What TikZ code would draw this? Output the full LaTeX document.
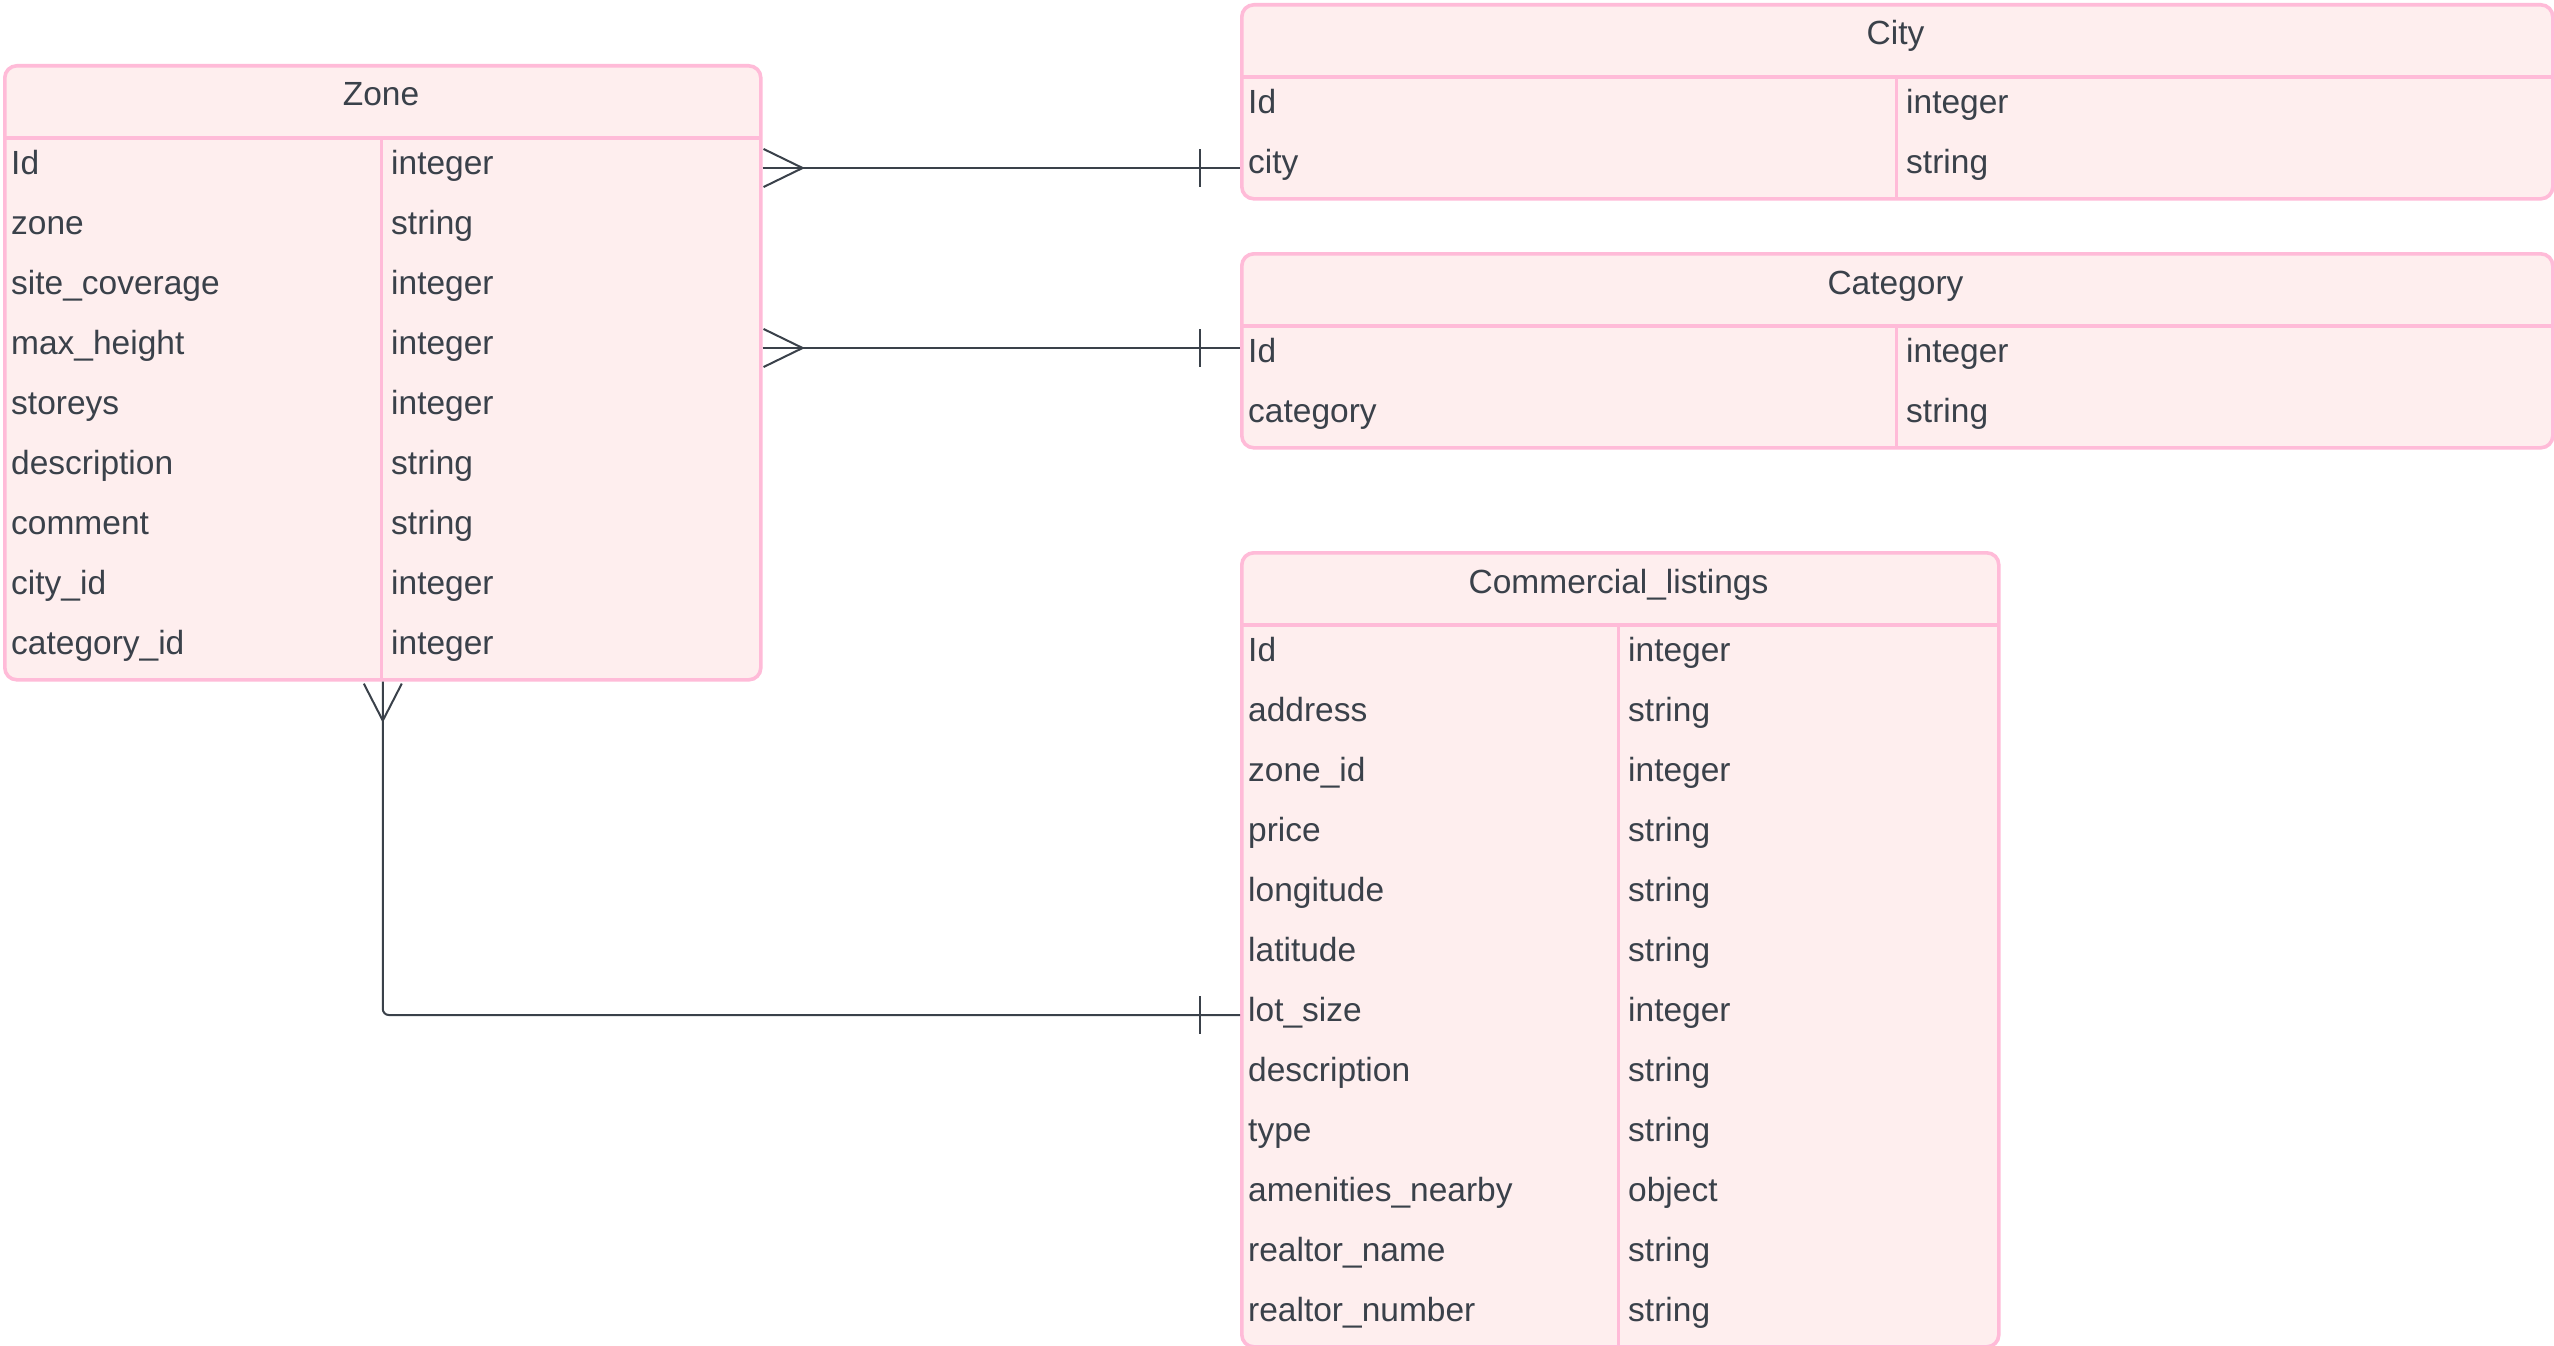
\documentclass[tikz,border=0pt]{standalone}
\usepackage{fontspec}
\setmainfont{Liberation Sans}
\definecolor{pinkline}{HTML}{FFBBD8}
\definecolor{pinkfill}{HTML}{FEEEEE}
\definecolor{ink}{HTML}{3A414A}
\tikzset{
  tbl/.style={draw=pinkline, fill=pinkfill, line width=3.6pt, rounded corners=12pt, inner sep=0pt, anchor=north west},
  sepline/.style={draw=pinkline, line width=3.6pt},
  colsep/.style={draw=pinkline, line width=3pt},
  txt/.style={text=ink, font=\fontsize{33.5}{40}\selectfont, inner sep=0pt, anchor=base west},
  ttl/.style={text=ink, font=\fontsize{33.5}{40}\selectfont, inner sep=0pt, anchor=base},
  conn/.style={draw=ink, line width=2pt, line join=miter},
}
\begin{document}
\begin{tikzpicture}[x=1pt,y=-1pt]
\useasboundingbox[fill=white] (0,0) rectangle (2554,1346);

% ---------------- Zone ----------------
\node[tbl, minimum width=756pt, minimum height=614pt] (zone) at (3,64) {};
\draw[sepline] (3,138) -- (759,138);
\draw[colsep] (381,138) -- (381,678);
\node[ttl] (zoneT) at (381,106) {Zone};
\foreach \n/\t [count=\i from 0] in {Id/integer, zone/string, site\_coverage/integer, max\_height/integer, storeys/integer, description/string, comment/string, city\_id/integer, category\_id/integer}{
  \node[txt] (zone-n\i) at (11,174+60*\i) {\n};
  \node[txt] (zone-t\i) at (391,174+60*\i) {\t};
}

% ---------------- City ----------------
\node[tbl, minimum width=1311pt, minimum height=194pt] (city) at (1240,3) {};
\draw[sepline] (1240,77) -- (2551,77);
\draw[colsep] (1896,77) -- (1896,197);
\node[ttl] (cityT) at (1895.5,45) {City};
\foreach \n/\t [count=\i from 0] in {Id/integer, city/string}{
  \node[txt] (city-n\i) at (1248,113+60*\i) {\n};
  \node[txt] (city-t\i) at (1906,113+60*\i) {\t};
}

% ---------------- Category ----------------
\node[tbl, minimum width=1311pt, minimum height=194pt] (cat) at (1240,252) {};
\draw[sepline] (1240,326) -- (2551,326);
\draw[colsep] (1896,326) -- (1896,446);
\node[ttl] (catT) at (1895.5,294) {Category};
\foreach \n/\t [count=\i from 0] in {Id/integer, category/string}{
  \node[txt] (cat-n\i) at (1248,362+60*\i) {\n};
  \node[txt] (cat-t\i) at (1906,362+60*\i) {\t};
}

% ---------------- Commercial_listings ----------------
\node[tbl, minimum width=757pt, minimum height=794pt] (comm) at (1240,551) {};
\draw[sepline] (1240,625) -- (1997,625);
\draw[colsep] (1618,625) -- (1618,1345);
\node[ttl] (commT) at (1618.5,593) {Commercial\_listings};
\foreach \n/\t [count=\i from 0] in {Id/integer, address/string, zone\_id/integer, price/string, longitude/string, latitude/string, lot\_size/integer, description/string, type/string, amenities\_nearby/object, realtor\_name/string, realtor\_number/string}{
  \node[txt] (comm-n\i) at (1248,661+60*\i) {\n};
  \node[txt] (comm-t\i) at (1628,661+60*\i) {\t};
}

% ---------------- Connectors ----------------
\coordinate (r1) at (0,168);
\coordinate (r2) at (0,348);
\coordinate (r3) at (0,1015);

% Zone (many) -- City (one)
\draw[conn] (zone.east |- r1) -- (city.west |- r1);
\draw[conn] (zone.east |- r1) ++(1,-19) -- ++(39,19) -- ++(-39,19);
\draw[conn] (city.west |- r1) ++(-40,-19) -- ++(0,38);

% Zone (many) -- Category (one)
\draw[conn] (zone.east |- r2) -- (cat.west |- r2);
\draw[conn] (zone.east |- r2) ++(1,-19) -- ++(39,19) -- ++(-39,19);
\draw[conn] (cat.west |- r2) ++(-40,-19) -- ++(0,38);

% Zone (many) -- Commercial_listings (one)
\draw[conn, rounded corners=6pt] (zone.south) -- (zone.south |- r3) -- (comm.west |- r3);
\draw[conn] (zone.south) ++(-19,2) -- ++(19,37) -- ++(19,-37);
\draw[conn] (comm.west |- r3) ++(-40,-19) -- ++(0,38);
\end{tikzpicture}
\end{document}
